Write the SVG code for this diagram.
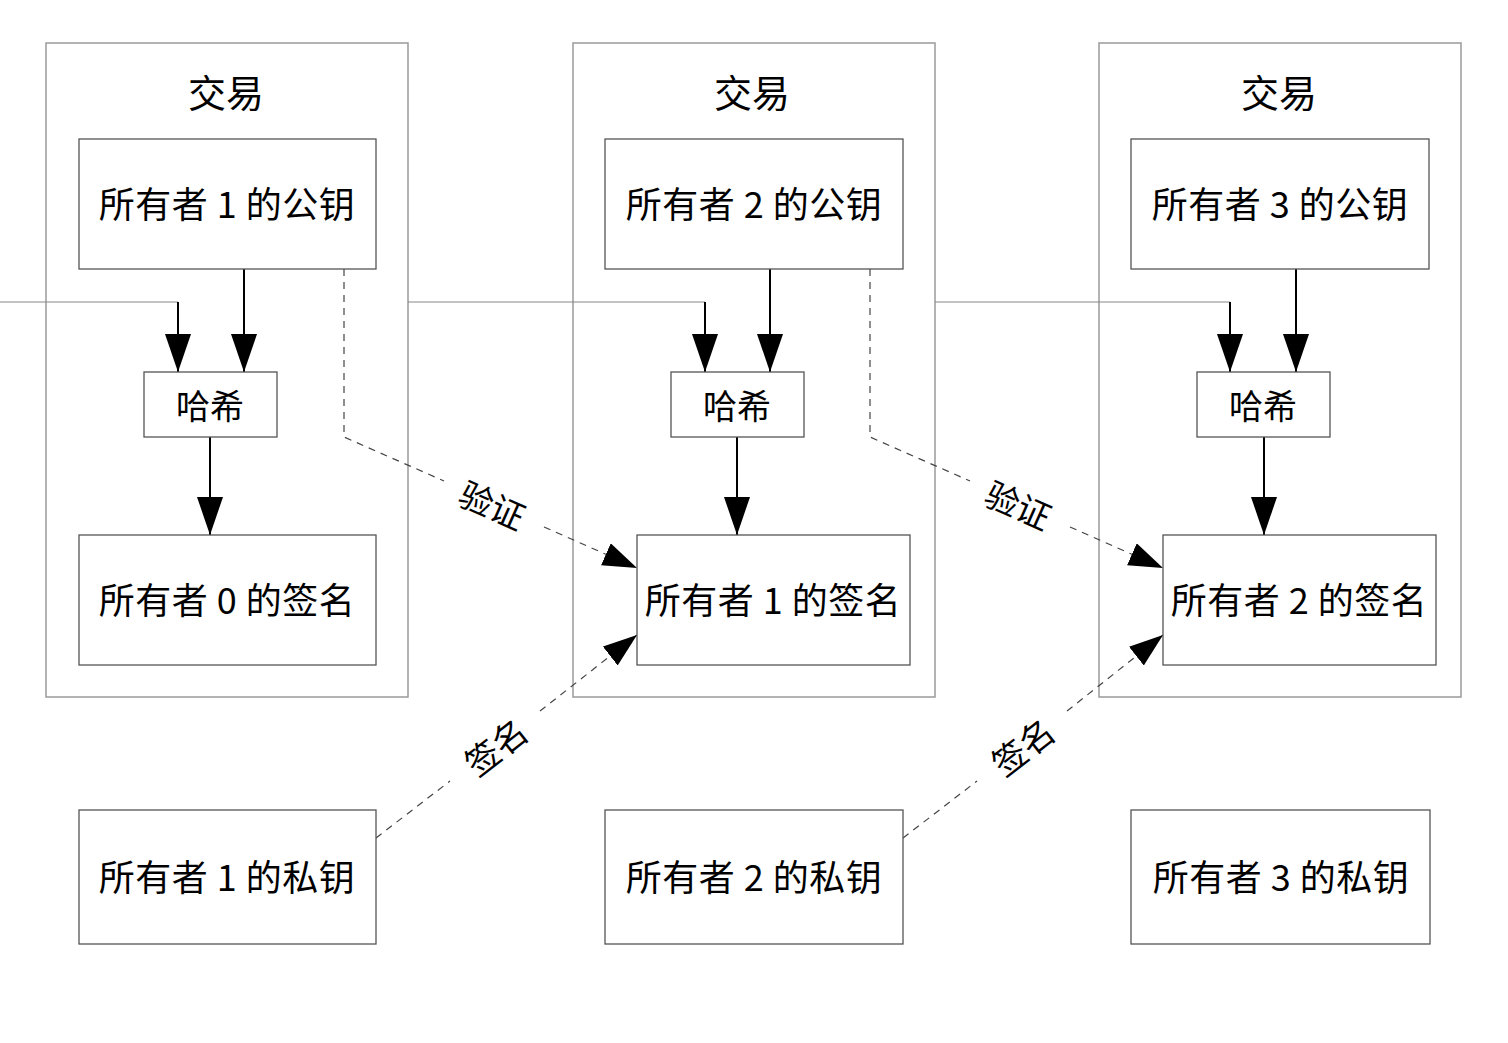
<svg xmlns="http://www.w3.org/2000/svg" width="1508" height="1043" viewBox="0 0 1508 1043">
<defs>
<marker id="ah" markerUnits="userSpaceOnUse" markerWidth="40" markerHeight="30" refX="38" refY="13" orient="auto">
<path d="M0,0 L38,13 L0,26 Z" fill="#000"/>
</marker>
<marker id="ahs" markerUnits="userSpaceOnUse" markerWidth="40" markerHeight="30" refX="34" refY="12" orient="auto">
<path d="M0,0 L34,12 L0,24 Z" fill="#000"/>
</marker>
<style>
.outer{fill:none;stroke:#9a9a9a;stroke-width:1.5}
.box{fill:#fff;stroke:#555;stroke-width:1.3}
.t{font-family:"Noto Sans CJK SC","Liberation Sans",sans-serif;fill:#000;text-anchor:middle;dominant-baseline:central}
.big{font-size:36px;letter-spacing:0.5px}
.title{font-size:38px}
.mid{font-size:34px}
.ln{fill:none;stroke:#000;stroke-width:2}
.thin{fill:none;stroke:#888;stroke-width:1.2}
.dash{fill:none;stroke:#444;stroke-width:1.2;stroke-dasharray:7,6}
</style>
</defs>
<rect width="1508" height="1043" fill="#fff"/>
<g id="tx1"><rect class="outer" x="46" y="43" width="362" height="654"/><text class="t title" x="226" y="90">交易</text></g>
<g id="tx2"><rect class="outer" x="573" y="43" width="362" height="654"/><text class="t title" x="752" y="90">交易</text></g>
<g id="tx3"><rect class="outer" x="1099" y="43" width="362" height="654"/><text class="t title" x="1279" y="90">交易</text></g>

<g id="connectors">
<path class="thin" d="M0,302 H178"/>
<path class="ln" d="M178,302 V372" marker-end="url(#ah)"/>
<path class="ln" d="M244,269 V372" marker-end="url(#ah)"/>
<path class="ln" d="M210,437 V535" marker-end="url(#ah)"/>
<path class="thin" d="M408,302 H705"/>
<path class="ln" d="M705,302 V372" marker-end="url(#ah)"/>
<path class="ln" d="M770,269 V372" marker-end="url(#ah)"/>
<path class="ln" d="M737,437 V535" marker-end="url(#ah)"/>
<path class="thin" d="M935,302 H1230"/>
<path class="ln" d="M1230,302 V372" marker-end="url(#ah)"/>
<path class="ln" d="M1296,269 V372" marker-end="url(#ah)"/>
<path class="ln" d="M1264,437 V535" marker-end="url(#ah)"/>
<path class="dash" d="M344,269 V437 L444,481"/>
<path class="dash" d="M544,527 L637,568" marker-end="url(#ahs)"/>
<path class="dash" d="M870,269 V437 L970,481"/>
<path class="dash" d="M1070,527 L1163,568" marker-end="url(#ahs)"/>
<path class="dash" d="M376,838 L450,781"/>
<path class="dash" d="M540,711 L637,635" marker-end="url(#ahs)"/>
<path class="dash" d="M903,838 L977,781"/>
<path class="dash" d="M1067,711 L1163,635" marker-end="url(#ahs)"/>
<text class="t mid" x="493" y="504" transform="rotate(24 493 504)">验证</text>
<text class="t mid" x="1019" y="504" transform="rotate(24 1019 504)">验证</text>
<text class="t mid" x="495" y="746" transform="rotate(-38 495 746)">签名</text>
<text class="t mid" x="1022" y="746" transform="rotate(-38 1022 746)">签名</text>
</g>

<g id="pub1"><rect class="box" x="79" y="139" width="297" height="130"/><text class="t big" x="227" y="202">所有者 1 的公钥</text></g>
<g id="pub2"><rect class="box" x="605" y="139" width="298" height="130"/><text class="t big" x="754" y="202">所有者 2 的公钥</text></g>
<g id="pub3"><rect class="box" x="1131" y="139" width="298" height="130"/><text class="t big" x="1280" y="202">所有者 3 的公钥</text></g>
<g id="hash1"><rect class="box" x="144" y="372" width="133" height="65"/><text class="t mid" x="210" y="404">哈希</text></g>
<g id="hash2"><rect class="box" x="671" y="372" width="133" height="65"/><text class="t mid" x="737" y="404">哈希</text></g>
<g id="hash3"><rect class="box" x="1197" y="372" width="133" height="65"/><text class="t mid" x="1263" y="404">哈希</text></g>
<g id="sig0"><rect class="box" x="79" y="535" width="297" height="130"/><text class="t big" x="227" y="598">所有者 0 的签名</text></g>
<g id="sig1"><rect class="box" x="637" y="535" width="273" height="130"/><text class="t big" x="773" y="598">所有者 1 的签名</text></g>
<g id="sig2"><rect class="box" x="1163" y="535" width="273" height="130"/><text class="t big" x="1299" y="598">所有者 2 的签名</text></g>
<g id="priv1"><rect class="box" x="79" y="810" width="297" height="134"/><text class="t big" x="227" y="875">所有者 1 的私钥</text></g>
<g id="priv2"><rect class="box" x="605" y="810" width="298" height="134"/><text class="t big" x="754" y="875">所有者 2 的私钥</text></g>
<g id="priv3"><rect class="box" x="1131" y="810" width="299" height="134"/><text class="t big" x="1281" y="875">所有者 3 的私钥</text></g>
</svg>
